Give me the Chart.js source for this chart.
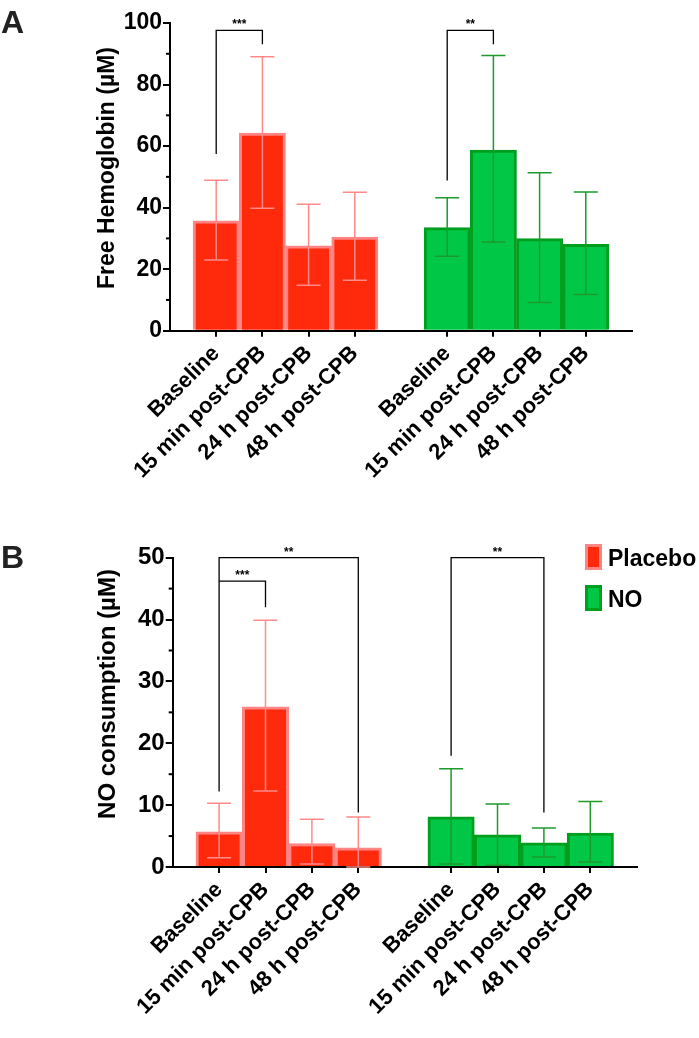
<!DOCTYPE html>
<html>
<head>
<meta charset="utf-8">
<script src="https://cdn.jsdelivr.net/npm/chart.js@4.4.0/dist/chart.umd.min.js"></script>
<style>
  body { margin: 0; background: #fff; }
  #wrap { position: relative; width: 699px; height: 1038px; }
  #panelA { position: absolute; left: 0; top: 0; }
  #panelB { position: absolute; left: 0; top: 500px; }
</style>
</head>
<body>
<div id="wrap">
  <canvas id="panelA" width="699" height="500"></canvas>
  <canvas id="panelB" width="699" height="538"></canvas>
</div>
<script>
var timepoints = ['Baseline', '15 min post-CPB', '24 h post-CPB', '48 h post-CPB'];

// panel A - free hemoglobin (uM)
var hbPlacebo = [35.7, 64.2, 27.6, 30.4];
var hbPlaceboLow = [23.0, 39.8, 14.8, 16.4];
var hbPlaceboHigh = [48.9, 89.0, 41.1, 45.0];
var hbNO = [33.5, 58.7, 29.9, 28.1];
var hbNOLow = [24.2, 28.8, 9.2, 11.8];
var hbNOHigh = [43.2, 89.4, 51.3, 45.1];
var hbTicks = [0, 20, 40, 60, 80, 100];
var hbMinor = [10, 30, 50, 70, 90];

// panel B - NO consumption (uM)
var noPlacebo = [5.7, 25.9, 3.8, 3.1];
var noPlaceboLow = [1.5, 12.3, 0.5, 0];
var noPlaceboHigh = [10.3, 39.9, 7.7, 8.1];
var noNO = [8.1, 5.2, 3.9, 5.5];
var noNOLow = [0.5, 0.3, 1.6, 0.8];
var noNOHigh = [15.9, 10.2, 6.3, 10.6];
var noTicks = [0, 10, 20, 30, 40, 50];
var noMinor = [5, 15, 25, 35, 45];

// significance brackets: category index from/to, leg ends and top (data units)
var hbBrackets = [
  { a: 1, b: 2, ya: 57.4, top: 97.6, yb: 93.1, text: '***' },
  { a: 6, b: 7, ya: 48.8, top: 97.6, yb: 93.1, text: '**' }
];
var noBrackets = [
  { a: 1, b: 4, ya: 12.2, top: 50, yb: 8.8, text: '**' },
  { a: 1, b: 2, ya: 46.2, top: 46.2, yb: 42.0, text: '***' },
  { a: 6, b: 8, ya: 18.0, top: 50, yb: 8.8, text: '**' }
];

var FONT = "'Liberation Sans', Arial, sans-serif";
var placeboFill = '#ff2a0c', placeboEdge = '#ff8585', placeboErr = '#ff8a8a';
var noFill = '#00c846', noEdge = '#009e1e', noErr = '#1d9a2c';

function axisLabels() { return [''].concat(timepoints, [''], timepoints, ['']); }
function placeboRow(v) { return [null].concat(v, [null, null, null, null, null, null]); }
function noRow(v) { return [null, null, null, null, null, null].concat(v, [null]); }

function extras(o) {
  return {
    id: 'extras',
    afterDatasetsDraw: function(chart) {
      var ctx = chart.ctx, x = chart.scales.x, y = chart.scales.y, area = chart.chartArea;
      ctx.save();
      // error bars
      chart.data.datasets.forEach(function(ds) {
        ctx.strokeStyle = ds.errColor;
        ctx.lineWidth = 1.5;
        ds.data.forEach(function(v, i) {
          if (v === null) return;
          var px = x.getPixelForValue(i);
          var hi = y.getPixelForValue(ds.errHigh[i]);
          var lo = y.getPixelForValue(ds.errLow[i]);
          ctx.beginPath();
          ctx.moveTo(px, hi); ctx.lineTo(px, lo);
          ctx.moveTo(px - 12, hi); ctx.lineTo(px + 12, hi);
          ctx.moveTo(px - 12, lo); ctx.lineTo(px + 12, lo);
          ctx.stroke();
        });
      });
      // minor ticks
      ctx.strokeStyle = '#000';
      ctx.lineWidth = 2;
      o.minor.forEach(function(v) {
        var py = y.getPixelForValue(v);
        ctx.beginPath();
        ctx.moveTo(area.left - 4, py); ctx.lineTo(area.left, py);
        ctx.stroke();
      });
      // brackets
      ctx.lineWidth = 1.3;
      ctx.fillStyle = '#000';
      ctx.font = 'bold 12px ' + FONT;
      ctx.textAlign = 'center';
      ctx.textBaseline = 'alphabetic';
      o.brackets.forEach(function(b) {
        var xa = x.getPixelForValue(b.a), xb = x.getPixelForValue(b.b);
        var top = y.getPixelForValue(b.top);
        ctx.beginPath();
        ctx.moveTo(xa, y.getPixelForValue(b.ya));
        ctx.lineTo(xa, top);
        ctx.lineTo(xb, top);
        ctx.lineTo(xb, y.getPixelForValue(b.yb));
        ctx.stroke();
        ctx.fillText(b.text, (xa + xb) / 2, top - 2);
      });
      // y title
      ctx.save();
      ctx.translate(o.titleX, o.titleY);
      ctx.rotate(-Math.PI / 2);
      ctx.font = 'bold ' + o.titleSize + 'px ' + FONT;
      ctx.textBaseline = 'middle';
      ctx.fillText(o.title, 0, 0);
      ctx.restore();
      // panel letter
      ctx.fillStyle = '#222';
      ctx.textAlign = 'left';
      ctx.font = 'bold 32px ' + FONT;
      ctx.fillText(o.letter, 1, o.letterY);
      // legend
      if (o.legend) {
        ctx.font = 'bold 23px ' + FONT;
        chart.data.datasets.forEach(function(ds, k) {
          var top = o.legend.y + k * 41;
          ctx.fillStyle = ds.borderColor;
          ctx.fillRect(o.legend.x, top, 17, 26);
          ctx.fillStyle = ds.backgroundColor;
          ctx.fillRect(o.legend.x + 3, top + 3, 11, 20);
          ctx.fillStyle = '#000';
          ctx.fillText(ds.label, o.legend.x + 23, top + 22);
        });
      }
      ctx.restore();
    }
  };
}

function makeChart(id, o) {
  var ctx = document.getElementById(id).getContext('2d');
  return new Chart(ctx, {
    type: 'bar',
    data: {
      labels: axisLabels(),
      datasets: [{
        label: 'Placebo',
        data: placeboRow(o.placebo),
        errLow: placeboRow(o.placeboLow),
        errHigh: placeboRow(o.placeboHigh),
        errColor: placeboErr,
        backgroundColor: placeboFill,
        borderColor: placeboEdge,
        borderWidth: 3,
        grouped: false,
        barPercentage: 1,
        categoryPercentage: 1
      }, {
        label: 'NO',
        data: noRow(o.no),
        errLow: noRow(o.noLow),
        errHigh: noRow(o.noHigh),
        errColor: noErr,
        backgroundColor: noFill,
        borderColor: noEdge,
        borderWidth: 3,
        grouped: false,
        barPercentage: 1,
        categoryPercentage: 1
      }]
    },
    options: {
      responsive: false,
      animation: false,
      events: [],
      layout: { padding: { top: o.top, right: o.right, left: 0, bottom: 0 } },
      plugins: { legend: { display: false }, tooltip: { enabled: false } },
      scales: {
        x: {
          offset: false,
          afterFit: function(s) { s.height = o.xHeight; },
          grid: {
            offset: false,
            drawOnChartArea: false,
            tickLength: 6,
            lineWidth: 2,
            color: function(c) { return c.tick && c.tick.label ? '#000' : 'rgba(0,0,0,0)'; }
          },
          border: { color: '#000', width: 2 },
          ticks: {
            autoSkip: false,
            maxRotation: 45,
            minRotation: 45,
            padding: 4,
            color: '#000',
            font: { family: FONT, size: 22, weight: 'bold' }
          }
        },
        y: {
          min: o.ticks[0],
          max: o.ticks[o.ticks.length - 1],
          afterFit: function(s) { s.width = o.yWidth; },
          afterBuildTicks: function(s) { s.ticks = o.ticks.map(function(v) { return { value: v }; }); },
          grid: { drawOnChartArea: false, tickLength: 7, lineWidth: 2, color: '#000' },
          border: { color: '#000', width: 2 },
          ticks: {
            padding: 1,
            color: '#000',
            font: { family: FONT, size: o.tickSize, weight: 'bold' }
          }
        }
      }
    },
    plugins: [extras(o)]
  });
}

makeChart('panelA', {
  placebo: hbPlacebo, placeboLow: hbPlaceboLow, placeboHigh: hbPlaceboHigh,
  no: hbNO, noLow: hbNOLow, noHigh: hbNOHigh,
  ticks: hbTicks, minor: hbMinor, brackets: hbBrackets,
  top: 23, right: 67, yWidth: 170, xHeight: 169.3, tickSize: 23,
  title: 'Free Hemoglobin (\u00b5M)', titleX: 108, titleY: 168, titleSize: 23,
  letter: 'A', letterY: 33
});

makeChart('panelB', {
  placebo: noPlacebo, placeboLow: noPlaceboLow, placeboHigh: noPlaceboHigh,
  no: noNO, noLow: noNOLow, noHigh: noNOHigh,
  ticks: noTicks, minor: noMinor, brackets: noBrackets,
  top: 57.7, right: 62.3, yWidth: 172.7, xHeight: 171, tickSize: 24,
  title: 'NO consumption (\u00b5M)', titleX: 108, titleY: 194, titleSize: 24,
  letter: 'B', letterY: 68,
  legend: { x: 585, y: 44 }
});
</script>
</body>
</html>
